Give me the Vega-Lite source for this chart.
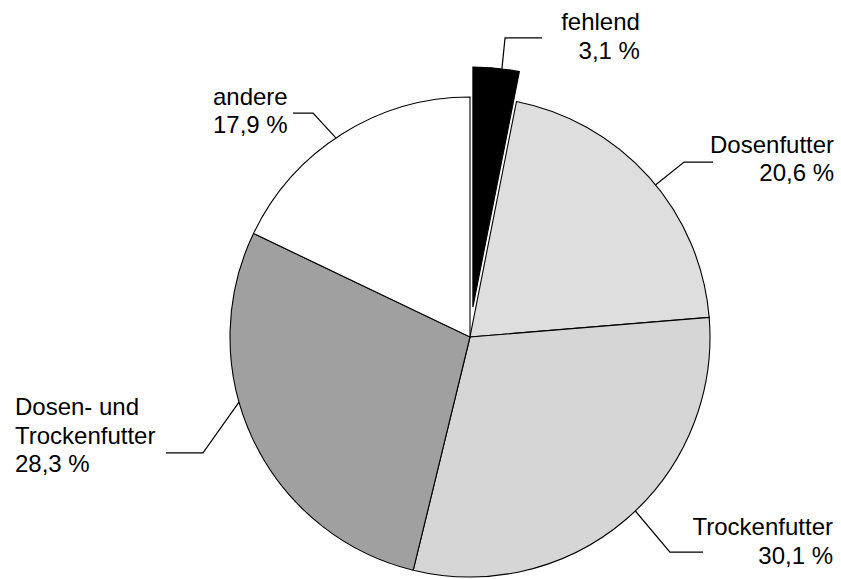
{
  "$schema": "https://vega.github.io/schema/vega-lite/v6.json",
  "width": 720,
  "height": 480,
  "autosize": {"type": "none"},
  "padding": {"left": 110, "top": 97, "right": 11, "bottom": 2},
  "background": "white",
  "config": {"view": {"stroke": null}},
  "datasets": {
    "slices": [
      {"cat": "fehlend", "value": 3.1, "order": 1},
      {"cat": "Dosenfutter", "value": 20.6, "order": 2},
      {"cat": "Trockenfutter", "value": 30.1, "order": 3},
      {"cat": "Dosen- und Trockenfutter", "value": 28.3, "order": 4},
      {"cat": "andere", "value": 17.9, "order": 5}
    ],
    "labels": [
      {"label": "fehlend\n3,1 %", "x": 70.8, "y": 127.9, "side": "right"},
      {"label": "Dosenfutter\n20,6 %", "x": 151.7, "y": 76.7, "side": "right"},
      {"label": "Trockenfutter\n30,1 %", "x": 151.25, "y": -82.5, "side": "right"},
      {"label": "Dosen- und\nTrockenfutter\n28,3 %", "x": -189.6, "y": -32.5, "side": "left"},
      {"label": "andere\n17,9 %", "x": -107.1, "y": 96.7, "side": "left"}
    ],
    "leaders": [
      {"id": "fehlend", "seq": 1, "x": 30, "y": 124.6},
      {"id": "fehlend", "seq": 2, "x": 14.6, "y": 124.6},
      {"id": "fehlend", "seq": 3, "x": 13.3, "y": 111.7},
      {"id": "andere", "seq": 1, "x": -73.75, "y": 93.3},
      {"id": "andere", "seq": 2, "x": -65.4, "y": 93.3},
      {"id": "andere", "seq": 3, "x": -55.8, "y": 82.9},
      {"id": "Dosenfutter", "seq": 1, "x": 101.25, "y": 72.9},
      {"id": "Dosenfutter", "seq": 2, "x": 89.2, "y": 72.9},
      {"id": "Dosenfutter", "seq": 3, "x": 77.4, "y": 63.4},
      {"id": "DosenUnd", "seq": 1, "x": -126.7, "y": -48.3},
      {"id": "DosenUnd", "seq": 2, "x": -111.25, "y": -48.3},
      {"id": "DosenUnd", "seq": 3, "x": -96.25, "y": -27.1},
      {"id": "Trockenfutter", "seq": 1, "x": 97.1, "y": -89.6},
      {"id": "Trockenfutter", "seq": 2, "x": 83.3, "y": -89.6},
      {"id": "Trockenfutter", "seq": 3, "x": 68.9, "y": -72.5}
    ]
  },
  "layer": [
    {
      "data": {"name": "slices"},
      "transform": [
        {"stack": "value", "groupby": [], "sort": [{"field": "order"}], "as": ["v0", "v1"]},
        {"filter": "datum.cat !== 'fehlend'"}
      ],
      "mark": {"type": "arc", "outerRadius": 240, "stroke": "black", "strokeWidth": 1.1},
      "encoding": {
        "theta": {"field": "v0", "type": "quantitative", "scale": {"domain": [0, 100]}},
        "theta2": {"field": "v1"},
        "color": {
          "field": "cat",
          "type": "nominal",
          "scale": {
            "domain": ["fehlend", "Dosenfutter", "Trockenfutter", "Dosen- und Trockenfutter", "andere"],
            "range": ["#000000", "#dedede", "#d6d6d6", "#a0a0a0", "#ffffff"]
          },
          "legend": null
        }
      }
    },
    {
      "data": {"name": "slices"},
      "transform": [
        {"stack": "value", "groupby": [], "sort": [{"field": "order"}], "as": ["v0", "v1"]},
        {"filter": "datum.cat === 'fehlend'"}
      ],
      "mark": {"type": "arc", "outerRadius": 240, "stroke": "black", "strokeWidth": 1.1, "xOffset": 2.9, "yOffset": -29.9},
      "encoding": {
        "theta": {"field": "v0", "type": "quantitative", "scale": {"domain": [0, 100]}},
        "theta2": {"field": "v1"},
        "color": {"field": "cat", "type": "nominal", "legend": null}
      }
    },
    {
      "data": {"name": "leaders"},
      "mark": {"type": "line", "color": "black", "strokeWidth": 1.2},
      "encoding": {
        "x": {"field": "x", "type": "quantitative", "scale": {"domain": [-150, 150], "nice": false, "zero": false}, "axis": null},
        "y": {"field": "y", "type": "quantitative", "scale": {"domain": [-100, 100], "nice": false, "zero": false}, "axis": null},
        "detail": {"field": "id"},
        "order": {"field": "seq"}
      }
    },
    {
      "data": {"name": "labels"},
      "transform": [{"filter": "datum.side === 'right'"}],
      "mark": {"type": "text", "align": "right", "baseline": "alphabetic", "lineBreak": "\n", "lineHeight": 28.5, "font": "Liberation Sans", "fontSize": 24, "color": "black"},
      "encoding": {
        "x": {"field": "x", "type": "quantitative", "scale": {"domain": [-150, 150], "nice": false, "zero": false}, "axis": null},
        "y": {"field": "y", "type": "quantitative", "scale": {"domain": [-100, 100], "nice": false, "zero": false}, "axis": null},
        "text": {"field": "label"}
      }
    },
    {
      "data": {"name": "labels"},
      "transform": [{"filter": "datum.side === 'left'"}],
      "mark": {"type": "text", "align": "left", "baseline": "alphabetic", "lineBreak": "\n", "lineHeight": 28.5, "font": "Liberation Sans", "fontSize": 24, "color": "black"},
      "encoding": {
        "x": {"field": "x", "type": "quantitative", "scale": {"domain": [-150, 150], "nice": false, "zero": false}, "axis": null},
        "y": {"field": "y", "type": "quantitative", "scale": {"domain": [-100, 100], "nice": false, "zero": false}, "axis": null},
        "text": {"field": "label"}
      }
    }
  ]
}
